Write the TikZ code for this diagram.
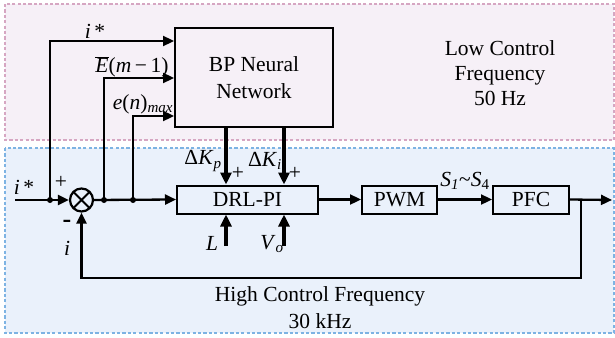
\documentclass[tikz,border=0pt]{standalone}
\usepackage{fontspec}
\setmainfont{LiberationSerif}[Extension=.ttf, UprightFont=*-Regular, ItalicFont=*-Italic, BoldFont=*-Bold, BoldItalicFont=*-BoldItalic]
\usetikzlibrary{arrows.meta}
\definecolor{pinkfill}{HTML}{F6F0F7}
\definecolor{pinkdash}{HTML}{D6A6C2}
\definecolor{bluefill}{HTML}{EAF1FB}
\definecolor{bluedash}{HTML}{7DB3E3}
\tikzset{
  blk/.style={draw, line width=2pt, fill=none, inner sep=0pt, align=center},
  arr/.style={line width=2.3pt, -{Triangle[length=11pt,width=10pt]}},
  thickarr/.style={line width=3.4pt, -{Triangle[length=12pt,width=11pt]}},
  dotnode/.style={circle, fill=black, inner sep=0pt, minimum size=6pt},
  lbl/.style={inner sep=0pt},
  zone/.style={line width=1.5pt, dash pattern=on 3.2pt off 2.2pt},
}
\begin{document}
\begin{tikzpicture}[x=1pt,y=-1pt,font=\fontsize{21.5}{25}\selectfont]
\useasboundingbox (0,0) rectangle (615,337);
% zones
\draw[zone, draw=pinkdash, fill=pinkfill] (5,4) rectangle (614,140);
\draw[zone, draw=bluedash, fill=bluefill] (5,148) rectangle (614,333);

% blocks
\node[blk, minimum width=158pt, minimum height=99pt, font=\fontsize{21.5}{27}\selectfont] (bp) at (254,77.5) {BP Neural\\Network};
\node[blk, minimum width=141pt, minimum height=28pt] (drl) at (247.5,199.5) {DRL-PI};
\node[blk, minimum width=75pt, minimum height=28pt] (pwm) at (399.5,199.5) {PWM};
\node[blk, minimum width=76pt, minimum height=28pt] (pfc) at (531,199.5) {PFC};
\node[circle, draw, line width=2.2pt, minimum size=23pt, inner sep=0pt,
  path picture={\draw[line width=2pt] (path picture bounding box.north west) -- (path picture bounding box.south east)
  (path picture bounding box.north east) -- (path picture bounding box.south west);}] (sum) at (81.5,200) {};

% coordinates
\coordinate (in) at (15,200);
\node[dotnode] (j1) at (50,200) {};
\node[dotnode] (d1) at (104,200) {};
\node[dotnode] (d2) at (133,200) {};
\coordinate (tap) at (581,200);
\coordinate (out) at (612,200);
\coordinate (fb) at (581,278);
\coordinate (y41) at (0,41);
\coordinate (y78) at (0,78);
\coordinate (y116) at (0,116);
\coordinate (kp) at (226,0);
\coordinate (ki) at (284,0);
\coordinate (Ls) at (226,246);
\coordinate (Vs) at (284,246);

% main path
\draw[arr] (in) -- (sum.west);
\draw[arr] (sum.east) -- (drl.west);
\draw[arr] (drl.east) -- (pwm.west);
\draw[arr] (pwm.east) -- (pfc.west);
\draw[arr] (pfc.east) -- (out);
\draw[arr] (tap) -- (fb) -| (sum.south);

% inputs to BP
\draw[arr] (j1.center) |- (bp.west |- y41);
\draw[arr] (d1.center) |- (bp.west |- y78);
\draw[arr] (d2.center) |- (bp.west |- y116);

% gains
\draw[thickarr] (bp.south -| kp) -- (drl.north -| kp);
\draw[thickarr] (bp.south -| ki) -- (drl.north -| ki);
\draw[thickarr] (Ls) -- (drl.south -| Ls);
\draw[thickarr] (Vs) -- (drl.south -| Vs);

% labels
\node[lbl] (l1) at (95,31) {\textit{i}\,*};
\node[lbl] (l2) at (132,67) {\(\overline{\mbox{\textit{E}}}\)(\textit{m}\,−\,1)};
\node[lbl] (l3) at (143,104) {\textit{e}(\textit{n})\textsubscript{\textit{max}}};
\node[lbl] (l4) at (24,187) {\textit{i}\,*};
\node[lbl] (l5) at (61,182) {+};
\node[lbl, font=\fontsize{26}{25}\selectfont\bfseries] (l6) at (67,224) {-};
\node[lbl] (l7) at (67,248) {\textit{i}};
\node[lbl] (l8) at (203,161) {Δ\textit{K}\textsubscript{\textit{p}}};
\node[lbl] (l9) at (238,173) {+};
\node[lbl] (l10) at (265,161) {Δ\textit{K}\textsubscript{\textit{i}}};
\node[lbl] (l11) at (295,173) {+};
\node[lbl] (l12) at (212,243) {\textit{L}};
\node[lbl] (l13) at (272,244) {\textit{V}\textsubscript{\textit{o}}};
\node[lbl] (l14) at (465,181) {\textit{S}\textsubscript{\textit{1}}\textasciitilde\textit{S}\textsubscript{4}};
\node[lbl, align=center, font=\fontsize{21.5}{25}\selectfont] (low) at (500,73) {Low Control\\Frequency\\50 Hz};
\node[lbl, align=center, font=\fontsize{21.5}{27}\selectfont] (high) at (320,308) {High Control Frequency\\30 kHz};
\end{tikzpicture}
\end{document}
